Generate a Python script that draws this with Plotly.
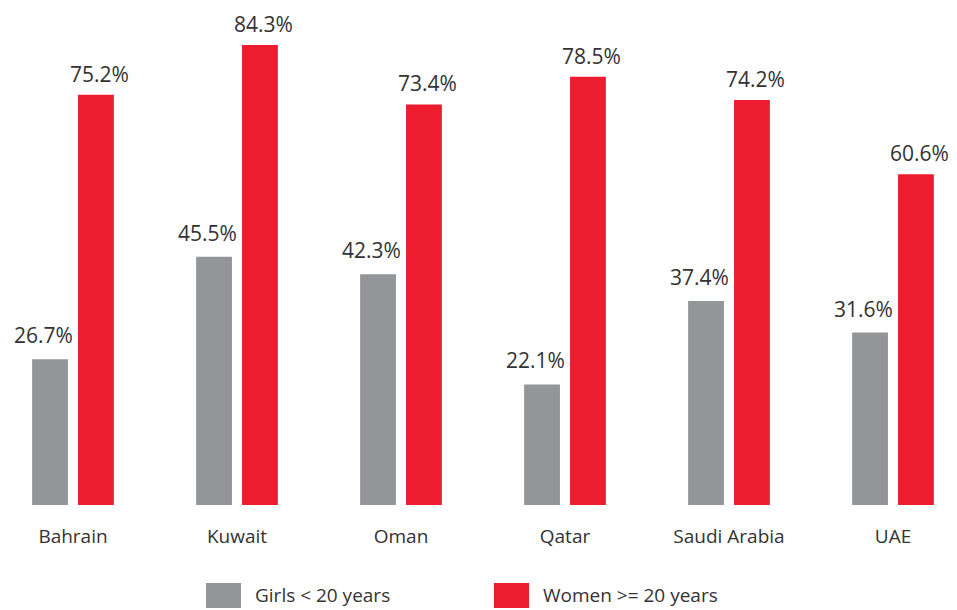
import plotly.graph_objects as go

countries = ["Bahrain", "Kuwait", "Oman", "Qatar", "Saudi Arabia", "UAE"]
girls = [26.7, 45.5, 42.3, 22.1, 37.4, 31.6]
women = [75.2, 84.3, 73.4, 78.5, 74.2, 60.6]
series_names = ["Girls < 20 years", "Women >= 20 years"]

GRAY = "#939598"
RED = "#ED1C2E"
TXT = "#333333"
FONT = "Open Sans, sans-serif"

fig = go.Figure()
for vals, col, name in [(girls, GRAY, series_names[0]), (women, RED, series_names[1])]:
    fig.add_trace(go.Bar(
        x=countries, y=vals, name=name, marker=dict(color=col, line=dict(width=0)),
        showlegend=False, hoverinfo="x+y+name",
    ))

# value labels (offset left/right to sit over each bar of the group)
for vals, dx, dy in [(girls, -30, 8), (women, 26, 5)]:
    for c, v in zip(countries, vals):
        fig.add_annotation(x=c, y=v, text=f"{v:.1f}%", showarrow=False,
                           xanchor="center", yanchor="bottom", xshift=dx, yshift=dy,
                           font=dict(family=FONT, size=21, color=TXT))

# page body has an 8px margin, so the figure is drawn at (8, 8)
OFF = 8
W, H = 957 - OFF, 610 - OFF
plot_bottom = 505 - OFF
c0 = 73 - OFF
step = 164
fig.update_layout(
    width=W, height=H, margin=dict(l=0, r=0, t=0, b=H - plot_bottom),
    paper_bgcolor="white", plot_bgcolor="white",
    barmode="group", bargap=0.44, bargroupgap=0.22,
    xaxis=dict(range=[-c0 / step, (W - c0) / step], showgrid=False, zeroline=False,
               showline=False, ticks="", ticklabelstandoff=18,
               tickfont=dict(family=FONT, size=19, color=TXT)),
    yaxis=dict(range=[0, plot_bottom / 5.457], visible=False),
)

def px2x(px):
    return (px - OFF) / W

def py2y(py):
    return (plot_bottom - (py - OFF)) / plot_bottom

legend_items = [(206, GRAY, series_names[0]), (494, RED, series_names[1])]
for x0, col, name in legend_items:
    fig.add_shape(type="rect", xref="paper", yref="paper",
                  x0=px2x(x0), x1=px2x(x0 + 35), y0=py2y(608), y1=py2y(583),
                  fillcolor=col, line=dict(width=0))
    fig.add_annotation(xref="paper", yref="paper", x=px2x(x0 + 47), y=py2y(595),
                       xanchor="left", yanchor="middle", showarrow=False,
                       text=name.replace("<", "&lt;").replace(">", "&gt;"),
                       font=dict(family=FONT, size=19, color=TXT))

fig.write_html("out.html")
